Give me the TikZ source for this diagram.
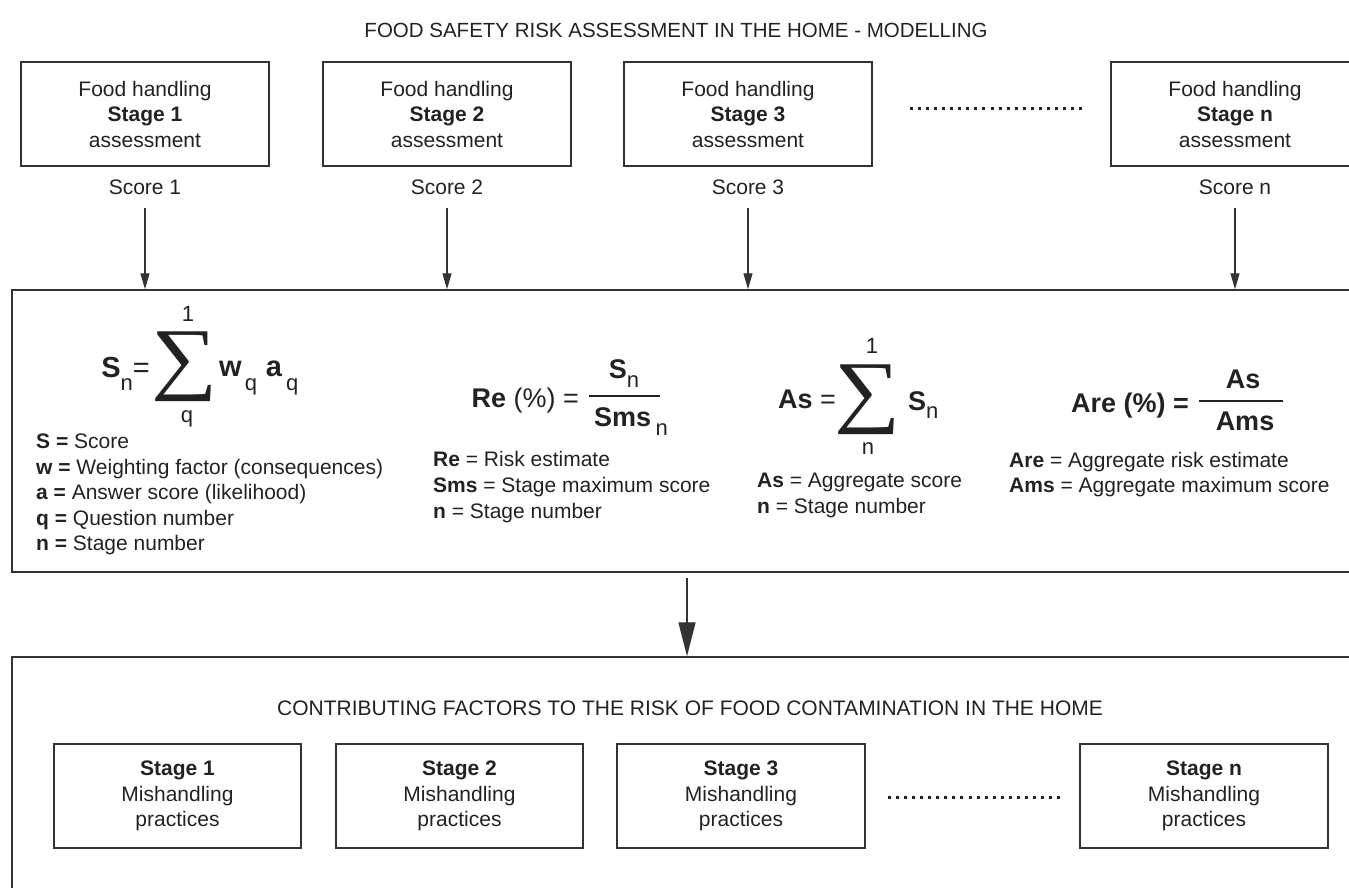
\documentclass[tikz,border=0pt]{standalone}
\usepackage{fontspec}
\setmainfont{Liberation Sans}
\newfontfamily\sigmafont{Liberation Serif}
\usetikzlibrary{arrows.meta}
\definecolor{ink}{HTML}{222222}
\definecolor{edge}{HTML}{333333}
\newcommand\fs[2]{\fontsize{#1}{#2}\selectfont}
\newcommand\sbs[2]{\raisebox{-#1}{\fs{22}{22}\mdseries #2}}
\newcommand\bigsig{\scalebox{1.12}[0.97]{∑}}
\begin{document}
\begin{tikzpicture}[x=1pt,y=-1pt,
  stagebox/.style={draw=edge, line width=1.5pt, minimum width=248pt, minimum height=104pt,
    inner sep=0pt, align=center, font=\fs{21}{25.5}, text=ink},
  bigbox/.style={draw=edge, line width=1.5pt, inner sep=0pt},
  txt/.style={inner sep=0pt, text=ink, font=\fs{21}{25.5}},
  frm/.style={inner sep=0pt, text=ink, font=\fs{27}{27}\bfseries},
  lim/.style={inner sep=0pt, text=ink, font=\fs{22}{22}},
  sig/.style={inner sep=0pt, text=ink, font=\fs{83}{83}\sigmafont},
  arr/.style={draw=edge, line width=1.2pt, -{Triangle[length=16pt,width=9pt]}},
  bigarr/.style={draw=edge, line width=1.4pt, -{Triangle[length=34pt,width=17pt]}},
  dotrow/.style={draw=ink, line width=3pt, dash pattern=on 3pt off 5.05pt},
  bar/.style={fill=ink, inner sep=0pt, minimum height=2pt}
]
\useasboundingbox (0,0) rectangle (1349,887);

% title
\node[txt, font=\fs{20.5}{25}] (title) at (676,30) {FOOD SAFETY RISK ASSESSMENT IN THE HOME - MODELLING};

% top stage boxes
\node[stagebox] (t1) at (145,114) {Food handling\\\textbf{Stage 1}\\assessment};
\node[stagebox] (t2) at (447,114) {Food handling\\\textbf{Stage 2}\\assessment};
\node[stagebox] (t3) at (748,114) {Food handling\\\textbf{Stage 3}\\assessment};
\node[stagebox] (tn) at (1235,114) {Food handling\\\textbf{Stage n}\\assessment};
\draw[dotrow] (910,108) -- (1082,108);

% scores
\node[txt] (s1) at (145,187) {Score 1};
\node[txt] (s2) at (447,187) {Score 2};
\node[txt] (s3) at (748,187) {Score 3};
\node[txt] (sn) at (1235,187) {Score n};

% middle box
\node[bigbox, minimum width=1340pt, minimum height=282pt] (mid) at (682,431) {};

\draw[arr, shorten <=13pt] (s1.south) -- (s1.south |- mid.north);
\draw[arr, shorten <=13pt] (s2.south) -- (s2.south |- mid.north);
\draw[arr, shorten <=13pt] (s3.south) -- (s3.south |- mid.north);
\draw[arr, shorten <=13pt] (sn.south) -- (sn.south |- mid.north);

% formula 1
\node[frm, font=\fs{29}{29}\bfseries, anchor=base east] (f1a) at (150,377) {S\sbs{13pt}{n}\mdseries=};
\node[sig] (f1s) at (185,367) {\bigsig};
\node[lim] (f1t) at (188,314) {1};
\node[lim, anchor=base] (f1b) at (187,422) {q};
\node[frm, font=\fs{29}{29}\bfseries, anchor=base west] (f1c) at (219,376) {w\hspace{3pt}\sbs{14pt}{q}\hspace{9pt}a\hspace{4pt}\sbs{14pt}{q}};

\node[txt, anchor=base west] (l1a) at (36,448) {\textbf{S =} Score};
\node[txt, anchor=base west] (l1b) at (36,474) {\textbf{w =} Weighting factor (consequences)};
\node[txt, anchor=base west] (l1c) at (36,499) {\textbf{a =} Answer score (likelihood)};
\node[txt, anchor=base west] (l1d) at (36,525) {\textbf{q =} Question number};
\node[txt, anchor=base west] (l1e) at (36,550) {\textbf{n =} Stage number};

% formula 2
\node[frm, anchor=base east] (f2a) at (579,407) {Re \mdseries(\%) =};
\node[bar, minimum width=71pt] (f2bar) at (624.5,396) {};
\node[frm, anchor=base] (f2n) at (624,378) {S\sbs{9pt}{n}};
\node[frm, anchor=base] (f2d) at (631,426) {Sms\,\sbs{9pt}{n}};

\node[txt, anchor=base west] (l2a) at (433,466) {\textbf{Re} = Risk estimate};
\node[txt, anchor=base west] (l2b) at (433,492) {\textbf{Sms} = Stage maximum score};
\node[txt, anchor=base west] (l2c) at (433,518) {\textbf{n} = Stage number};

% formula 3
\node[frm, anchor=base east] (f3a) at (836,408) {As \mdseries=};
\node[sig] (f3s) at (868,400) {\bigsig};
\node[lim] (f3t) at (872,346) {1};
\node[lim] (f3b) at (868,449) {n};
\node[frm, anchor=base west] (f3c) at (908,410) {S\sbs{8pt}{n}};

\node[txt, anchor=base west] (l3a) at (757,487) {\textbf{As} = Aggregate score};
\node[txt, anchor=base west] (l3b) at (757,513) {\textbf{n} = Stage number};

% formula 4
\node[frm, anchor=base east] (f4a) at (1189,412) {Are (\%) =};
\node[bar, minimum width=84pt] (f4bar) at (1241,401) {};
\node[frm, anchor=base] (f4n) at (1243,388) {As};
\node[frm, anchor=base] (f4d) at (1245,430) {Ams};

\node[txt, anchor=base west] (l4a) at (1009,467) {\textbf{Are} = Aggregate risk estimate};
\node[txt, anchor=base west] (l4b) at (1009,492) {\textbf{Ams} = Aggregate maximum score};

% bottom box
\node[bigbox, minimum width=1340pt, minimum height=250pt] (bot) at (682,782) {};
\coordinate (bx) at (687,0);
\draw[bigarr, shorten <=5pt] (mid.south -| bx) -- (bot.north -| bx);

\node[txt] (btitle) at (690,708) {CONTRIBUTING FACTORS TO THE RISK OF FOOD CONTAMINATION IN THE HOME};

\node[stagebox, minimum width=247pt] (b1) at (177.5,796) {\textbf{Stage 1}\\Mishandling\\practices};
\node[stagebox, minimum width=247pt] (b2) at (459.5,796) {\textbf{Stage 2}\\Mishandling\\practices};
\node[stagebox, minimum width=248pt] (b3) at (741,796) {\textbf{Stage 3}\\Mishandling\\practices};
\node[stagebox, minimum width=248pt] (bn) at (1204,796) {\textbf{Stage n}\\Mishandling\\practices};
\draw[dotrow] (888,797) -- (1060,797);
\end{tikzpicture}
\end{document}
